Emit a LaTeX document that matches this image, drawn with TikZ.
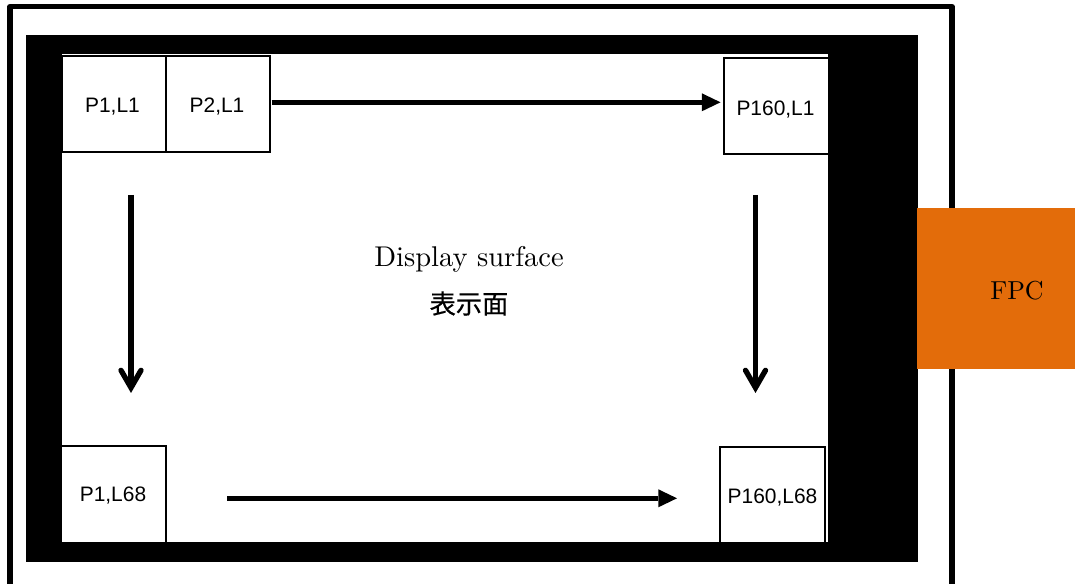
\documentclass[tikz,border=0pt]{standalone}
\usepackage{fontspec}
\setmainfont{lmroman10-regular.otf}
\newfontfamily\labelfont{Liberation Sans}
\newfontfamily\cjkfont[FakeBold=0.3]{Noto Sans CJK JP}
\usetikzlibrary{arrows.meta}
\definecolor{fpcorange}{HTML}{E36C0A}
\tikzset{
  cellbox/.style={draw=black,line width=1.5pt},
  celltext/.style={font=\labelfont\fontsize{15.7}{18}\selectfont,inner sep=0pt,anchor=center},
  solidarrow/.style={line width=4pt,-{Triangle[length=14pt,width=13.5pt,line width=0pt]}},
  openarrow/.style={line width=4pt,-{Straight Barb[length=13pt,width=15pt,line cap=round]}},
  serif/.style={inner sep=0pt,anchor=center}
}
\begin{document}
\begin{tikzpicture}[x=0.75pt,y=-0.75pt]
\useasboundingbox (0,0) rectangle (1075,584);
\clip (0,0) rectangle (1075,584);
% outer frame (open at the bottom, runs off the picture)
\draw[line width=3.9pt,line join=round] (10,600) -- (10,6.5) -- (952,6.5) -- (952,600);
% black bezel and white display area
\fill[black] (26,35) rectangle (918.4,562.3);
\fill[white] (62,54.5) rectangle (827.8,541.8);
% cells
\draw[cellbox] (62,55.7) rectangle (165.8,152.3);
\draw[cellbox] (165.8,55.7) rectangle (270.4,152.3);
\draw[cellbox] (828,58.4) -- (724.2,58.4) -- (724.2,154.5) -- (828,154.5);
\draw[cellbox] (62,446) -- (165.8,446) -- (165.8,541.8);
\draw[cellbox] (720.4,542) -- (720.4,446.8) -- (825,446.8) -- (825,542);
\node[celltext] (p1l1) at (112.5,106.5) {P1,L1};
\node[celltext] (p2l1) at (217,106.5) {P2,L1};
\node[celltext] (p160l1) at (775.5,110) {P160,L1};
\node[celltext] (p1l68) at (113,496) {P1,L68};
\node[celltext] (p160l68) at (772.5,497.5) {P160,L68};
% centre text
\node[serif,font=\fontsize{21.4}{25}\selectfont] (disp) at (469,259) {Display surface};
\node[font=\cjkfont\fontsize{19.7}{23}\selectfont,inner sep=0pt] (hyo) at (469,303.5) {表示面};
% FPC
\fill[fpcorange] (917,208) rectangle (1075,369);
\node[serif,font=\fontsize{19.5}{24}\selectfont] (fpc) at (1017,291) {FPC};
% arrows
\coordinate (a1s) at (271.5,102.3); \coordinate (a1e) at (720.5,102.3);
\coordinate (a2s) at (227,498.3);   \coordinate (a2e) at (677,498.3);
\coordinate (a3s) at (131,195);   \coordinate (a3e) at (131,393);
\coordinate (a4s) at (755.5,195); \coordinate (a4e) at (755.5,393);
\draw[solidarrow] (a1s) -- (a1e);
\draw[solidarrow] (a2s) -- (a2e);
\draw[openarrow] (a3s) -- (a3e);
\draw[openarrow] (a4s) -- (a4e);
\end{tikzpicture}
\end{document}
